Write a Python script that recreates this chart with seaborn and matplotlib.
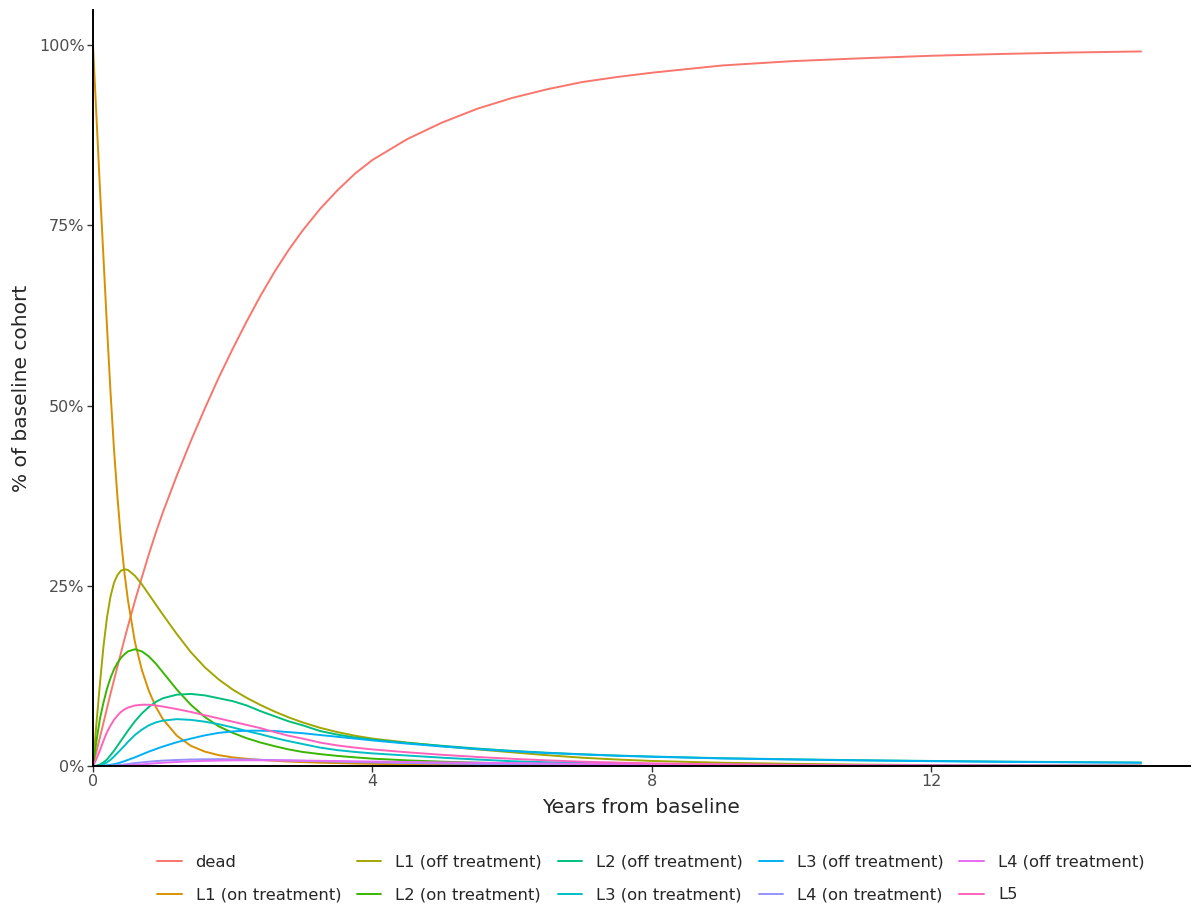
import pandas as pd
import matplotlib
matplotlib.use("Agg")
import matplotlib.pyplot as plt
import seaborn as sns
from matplotlib.ticker import PercentFormatter

# time grid (years) and % of baseline cohort in each state
years = [0, 0.05, 0.1, 0.15, 0.2, 0.25, 0.3, 0.35, 0.4, 0.45, 0.5,
         0.6, 0.7, 0.8, 0.9, 1.0,
         1.2, 1.4, 1.6, 1.8, 2.0, 2.2, 2.4, 2.6, 2.8, 3.0, 3.25, 3.5, 3.75, 4.0,
         4.5, 5.0, 5.5, 6.0, 6.5, 7.0, 7.5, 8.0,
         9, 10, 11, 12, 13, 14, 15]

dead = [0, 2.0, 4.0, 6.0, 8.0, 10.0, 11.9, 13.8, 15.7, 17.6, 19.4,
        22.9, 26.2, 29.4, 32.4, 35.2,
        40.3, 45.1, 49.6, 53.9, 57.9, 61.7, 65.3, 68.6, 71.6, 74.3, 77.3, 79.9, 82.2, 84.1,
        87.0, 89.3, 91.2, 92.7, 93.9, 94.9, 95.6, 96.2,
        97.2, 97.8, 98.2, 98.55, 98.8, 99.0, 99.15]
l1_on = [100, 90, 80, 70.5, 61, 52, 44, 37.3, 31.5, 26.8, 23,
         17.2, 13.3, 10.4, 8.2, 6.5,
         4.2, 2.8, 2.0, 1.5, 1.2, 1.0, 0.85, 0.72, 0.62, 0.54, 0.46, 0.4, 0.34, 0.3,
         0.23, 0.18, 0.14, 0.11, 0.09, 0.07, 0.06, 0.05,
         0.04, 0.03, 0.03, 0.02, 0.02, 0.02, 0.02]
l1_off = [0, 6.0, 11.5, 16.6, 20.6, 23.5, 25.4, 26.5, 27.1, 27.3, 27.2,
          26.4, 25.2, 23.8, 22.4, 21.0,
          18.3, 15.8, 13.7, 12.0, 10.6, 9.45, 8.45, 7.55, 6.75, 6.05, 5.3, 4.7, 4.2, 3.8,
          3.25, 2.75, 2.3, 1.9, 1.5, 1.15, 0.9, 0.7,
          0.45, 0.3, 0.2, 0.14, 0.1, 0.07, 0.05]
l2_on = [0, 3.5, 6.6, 8.8, 10.7, 12.2, 13.4, 14.3, 15.0, 15.5, 15.9,
         16.2, 15.9, 15.2, 14.2, 13.0,
         10.6, 8.5, 6.8, 5.5, 4.6, 3.85, 3.25, 2.75, 2.3, 1.95, 1.65, 1.4, 1.2, 1.02,
         0.78, 0.6, 0.46, 0.35, 0.27, 0.2, 0.16, 0.12,
         0.08, 0.05, 0.03, 0.02, 0.01, 0.01, 0.01]
l2_off = [0, 0.05, 0.2, 0.5, 0.9, 1.5, 2.1, 2.8, 3.5, 4.2, 4.9,
          6.2, 7.3, 8.2, 8.9, 9.4,
          9.9, 10.0, 9.8, 9.4, 9.0, 8.4, 7.6, 6.9, 6.2, 5.65, 4.85, 4.35, 3.95, 3.65,
          3.2, 2.8, 2.42, 2.1, 1.84, 1.63, 1.45, 1.31,
          1.08, 0.93, 0.8, 0.7, 0.61, 0.54, 0.48]
l3_on = [0, 0.0, 0.1, 0.25, 0.5, 0.85, 1.3, 1.8, 2.3, 2.8, 3.35,
         4.3, 5.05, 5.65, 6.05, 6.3,
         6.5, 6.4, 6.15, 5.8, 5.35, 4.85, 4.4, 3.9, 3.45, 3.05, 2.55, 2.2, 1.95, 1.75,
         1.45, 1.15, 0.9, 0.66, 0.52, 0.42, 0.33, 0.27,
         0.18, 0.12, 0.08, 0.06, 0.05, 0.04, 0.03]
l3_off = [0, 0.0, 0.0, 0.05, 0.1, 0.17, 0.25, 0.37, 0.5, 0.67, 0.85,
          1.2, 1.6, 2.0, 2.35, 2.7,
          3.3, 3.8, 4.25, 4.6, 4.8, 4.9, 4.9, 4.85, 4.7, 4.55, 4.3, 4.05, 3.8, 3.55,
          3.1, 2.7, 2.35, 2.05, 1.8, 1.6, 1.42, 1.28,
          1.05, 0.9, 0.77, 0.67, 0.58, 0.51, 0.45]
l4_on = [0, 0.0, 0.0, 0.01, 0.02, 0.04, 0.07, 0.11, 0.15, 0.21, 0.27,
         0.4, 0.5, 0.6, 0.68, 0.75,
         0.84, 0.9, 0.93, 0.95, 0.93, 0.9, 0.86, 0.82, 0.77, 0.72, 0.66, 0.6, 0.55, 0.5,
         0.42, 0.35, 0.28, 0.22, 0.18, 0.15, 0.12, 0.1,
         0.07, 0.05, 0.03, 0.02, 0.02, 0.01, 0.01]
l4_off = [0, 0.0, 0.0, 0.0, 0.0, 0.01, 0.02, 0.03, 0.05, 0.07, 0.1,
          0.15, 0.22, 0.3, 0.38, 0.45,
          0.56, 0.65, 0.71, 0.75, 0.78, 0.79, 0.79, 0.78, 0.77, 0.75, 0.72, 0.69, 0.65, 0.62,
          0.56, 0.5, 0.45, 0.4, 0.35, 0.3, 0.26, 0.23,
          0.18, 0.14, 0.11, 0.08, 0.06, 0.05, 0.04]
l5 = [0, 1.0, 2.2, 3.5, 4.7, 5.6, 6.4, 7.0, 7.5, 7.85, 8.1,
      8.4, 8.5, 8.5, 8.4, 8.25,
      7.9, 7.5, 7.05, 6.6, 6.15, 5.7, 5.25, 4.7, 4.2, 3.8, 3.25, 2.85, 2.55, 2.3,
      1.9, 1.55, 1.25, 1.0, 0.78, 0.6, 0.47, 0.37,
      0.24, 0.16, 0.11, 0.08, 0.06, 0.04, 0.03]

states = ["dead", "L1 (on treatment)", "L1 (off treatment)", "L2 (on treatment)",
          "L2 (off treatment)", "L3 (on treatment)", "L3 (off treatment)",
          "L4 (on treatment)", "L4 (off treatment)", "L5"]
colors = ["#F8766D", "#D89000", "#A3A500", "#39B600", "#00BF7D",
          "#00BFC4", "#00B0F6", "#9590FF", "#E76BF3", "#FF62BC"]

series = [dead, l1_on, l1_off, l2_on, l2_off, l3_on, l3_off, l4_on, l4_off, l5]
frames = []
for name, vals in zip(states, series):
    frames.append(pd.DataFrame({"years": years, "pct": vals, "state": name}))
df = pd.concat(frames, ignore_index=True)

sns.set_theme(style="white")
plt.rcParams["font.family"] = ["DejaVu Sans"]

fig = plt.figure(figsize=(11.92, 9.09), dpi=100)
ax = fig.add_axes([93 / 1192, 1 - 766 / 909, (1190 - 93) / 1192, (766 - 10) / 909])

sns.lineplot(data=df, x="years", y="pct", hue="state", hue_order=states,
             palette=colors, linewidth=1.4, ax=ax, legend=True)

ax.set_xlim(0, 15.7)
ax.set_ylim(0, 104.9)
ax.set_xticks([0, 4, 8, 12])
ax.set_yticks([0, 25, 50, 75, 100])
ax.yaxis.set_major_formatter(PercentFormatter(decimals=0))

for side in ["top", "right"]:
    ax.spines[side].set_visible(False)
for side in ["left", "bottom"]:
    ax.spines[side].set_color("black")
    ax.spines[side].set_linewidth(1.4)

ax.tick_params(axis="both", which="major", length=4, width=1.0, color="#333333",
               labelsize=11.5, labelcolor="#4D4D4D", pad=2, direction="out",
               bottom=True, left=True)

ax.set_xlabel("Years from baseline", fontsize=14.5, labelpad=6)
ax.set_ylabel("% of baseline cohort", fontsize=14.5, labelpad=6)

handles, labels = ax.get_legend_handles_labels()
ax.get_legend().remove()
fig.legend(handles, labels, loc="center", bbox_to_anchor=(0.546, 1 - 878.5 / 909),
           ncol=5, frameon=False, fontsize=11.8, handlelength=1.5,
           columnspacing=0.95, handletextpad=0.85, labelspacing=1.08)

fig.savefig("out.png", dpi=100)
